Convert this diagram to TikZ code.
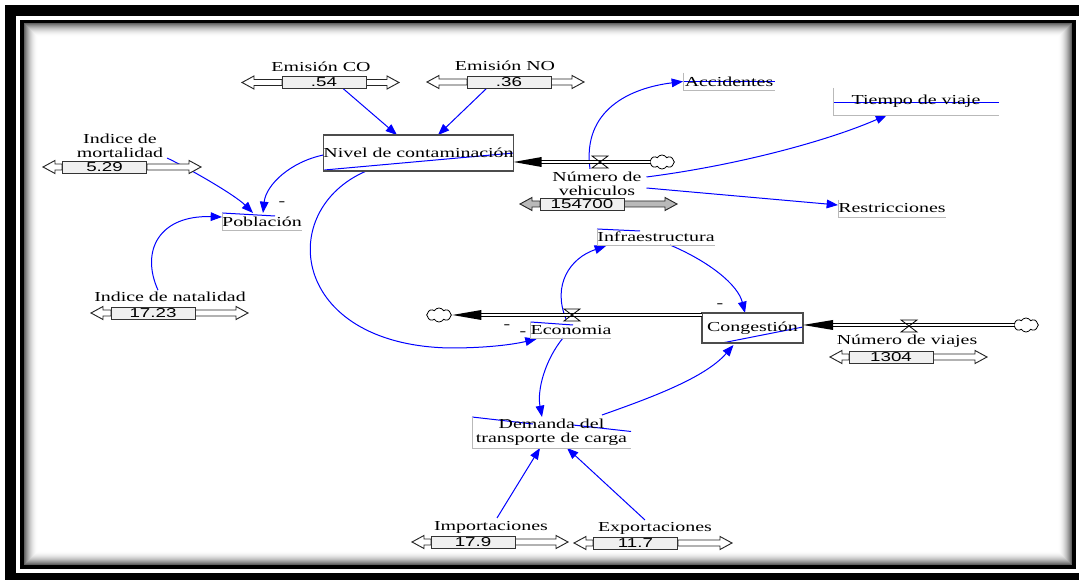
\documentclass[tikz,border=0pt]{standalone}
\usepackage{fontspec}
\setmainfont{Liberation Serif}[FakeStretch=1.45]
\newfontfamily\valfont{Liberation Sans}[FakeStretch=1.45]
\usetikzlibrary{calc,arrows.meta,shapes.symbols}
\pgfdeclarelayer{back}
\pgfdeclarelayer{links}
\pgfsetlayers{back,links,main}
\tikzset{
  every node/.style={font=\fontsize{10.3}{10.8}\selectfont, inner sep=0pt, outer sep=0pt},
  stock/.style={draw=black!70, line width=0.9pt},
  auxedge/.style={draw=gray!55, line width=0.7pt},
  valbox/.style={draw=black!80, fill=gray!12, line width=0.7pt, minimum width=63pt, minimum height=9pt,
                 font=\valfont\fontsize{9.7}{10}\selectfont},
  sarrow/.style={draw=black!85, fill=white, line width=0.7pt},
  sarrowgray/.style={draw=black!85, fill=gray!55, line width=0.7pt},
  link/.style={draw=blue, line width=0.75pt, -{Triangle[length=8.5pt,width=6.5pt]}},
  strike/.style={draw=blue, line width=0.75pt},
  flowline/.style={draw=black, line width=0.6pt, double=white, double distance=2.2pt},
  flowhead/.style={fill=black},
  cloudnode/.style={cloud, cloud puffs=8, cloud puff arc=120, aspect=1.8, draw=black, line width=0.6pt,
                    minimum width=18.5pt, minimum height=10.5pt, inner sep=0pt},
  pol/.style={},
  valvepic/.pic={\draw[black, line width=0.6pt] (-8,-6) -- (8,-6) -- (-8,6) -- (8,6) -- cycle;}
}
% #1 name, #2 left tip, #3 box left, #4 box right, #5 right tip, #6 y, #7 value, #8 arrow style
\newcommand\vslider[8]{%
  \draw[#8] (#3,#6-3) -- (#2+12,#6-3) -- (#2+12,#6-6.5) -- (#2,#6) -- (#2+12,#6+6.5) -- (#2+12,#6+3) -- (#3,#6+3) -- cycle;
  \draw[#8] (#4,#6-3) -- (#5-12,#6-3) -- (#5-12,#6-6.5) -- (#5,#6) -- (#5-12,#6+6.5) -- (#5-12,#6+3) -- (#4,#6+3) -- cycle;
  \node[valbox] (#1) at ({(#3+#4)/2},#6) {#7};
}
\begin{document}
\begin{tikzpicture}[x=0.75pt,y=-0.75pt]
\useasboundingbox (0,0) rectangle (1079,580);
\begin{pgfonlayer}{back}
  \fill[white] (0,0) rectangle (1079,580);
  \fill[black] (5,5) rectangle (1079,16);
  \fill[black] (5,5) rectangle (16,580);
  \fill[black] (5,573) rectangle (1079,580);
  \foreach \i in {0,...,13}{
    \pgfmathsetmacro\g{62*(1-\i/14)*(1-\i/14)}
    \draw[black!\g, line width=0.8pt] (24+\i+0.5,23+\i+0.5) rectangle (1072-\i-0.5,565-\i-0.5);
  }
  \draw[black, line width=2.6pt] (22,21.5) rectangle (1074,567);
\end{pgfonlayer}

% stocks
\node[stock, minimum width=141.75pt, minimum height=27pt] (nivel) at (418.5,153) {Nivel de contaminación};
\node[stock, minimum width=75.75pt, minimum height=22.5pt] (cong) at (752.5,328) {Congestión};

% auxiliaries
\node[minimum width=69pt, minimum height=12.75pt] (acc) at (729,81.5) {Accidentes};
\node[minimum width=124.5pt, minimum height=20.25pt] (tiempo) at (916,101.5) {Tiempo de viaje};
\node[minimum width=81pt, minimum height=12.75pt] (restr) at (892,208.5) {Restricciones};
\node[minimum width=60pt, minimum height=12.75pt] (pob) at (262,221.5) {Población};
\node[minimum width=88.5pt, minimum height=12pt] (infra) at (656,237) {Infraestructura};
\node[minimum width=60pt, minimum height=12pt] (eco) at (571,330) {Economia};
\node[align=center, minimum width=119.25pt, minimum height=23.25pt] (dem) at (551.5,432.5) {Demanda del\\transporte de carga};
\foreach \n in {acc,tiempo,restr,pob,infra,eco,dem}{
  \draw[auxedge] (\n.north west) |- (\n.south east);
}

% slider labels
\node (colab) at (321,67) {Emisión CO};
\node (nolab) at (505,66) {Emisión NO};
\node[align=center] (mortlab) at (120,146) {Indice de\\mortalidad};
\node (natlab) at (170,297) {Indice de natalidad};
\node[align=center] (vehlab) at (597,184) {Número de\\vehiculos};
\node (viajlab) at (907,341) {Número de viajes};
\node (implab) at (491,527) {Importaciones};
\node (explab) at (655,528) {Exportaciones};

% sliders
\vslider{co}{242}{282}{366}{399}{82.5}{.54}{sarrow}
\vslider{no}{427}{467}{551}{584}{82}{.36}{sarrow}
\vslider{mort}{43}{62}{147}{201}{167}{5.29}{sarrow}
\vslider{nat}{91}{111}{195}{248}{313}{17.23}{sarrow}
\vslider{veh}{520}{540}{624}{677}{204}{154700}{sarrowgray}
\vslider{viaj}{830}{849}{933}{987}{357}{1304}{sarrow}
\vslider{imp}{412}{431}{515}{568}{542}{17.9}{sarrow}
\vslider{exp}{574}{593}{678}{732}{543}{11.7}{sarrow}

% polarity signs
\node[pol] (p1) at (282,204) {-};
\node[pol] (p2) at (720,306) {-};
\node[pol] (p3) at (507,327) {-};
\node[pol] (p4) at (523,334) {-};

% clouds and flows
\node[cloudnode] (c1) at (662,162) {};
\node[cloudnode] (c2) at (1026,325) {};
\node[cloudnode] (c3) at (439,315) {};

\draw[flowline] (c1.west) -- ($(nivel.east)+(27,9)$);
\fill[flowhead] ($(nivel.east)+(0,9)$) -- ++(28,-5) -- ++(0,10) -- cycle;
\pic at (600,162) {valvepic};

\draw[flowline] (c2.west) -- ($(cong.east)+(30,-3)$);
\fill[flowhead] ($(cong.east)+(0,-3)$) -- ++(30,-5) -- ++(0,10) -- cycle;
\pic at (909,326) {valvepic};

\draw[flowline] ($(cong.north west)+(0,2)$) -- ($(c3.east)+(30,0)$);
\fill[flowhead] ($(c3.east)+(1,0)$) -- ++(29,-5) -- ++(0,10) -- cycle;
\pic at (572,315) {valvepic};

% causal links
\begin{pgfonlayer}{links}
  \draw[link] ($(co.south)+(19,0)$) -- ($(nivel.north)+(-21.5,0)$);
  \draw[link] ($(no.south)+(-22,0)$) -- ($(nivel.north)+(19.5,0)$);
  \draw[link] ($(mortlab.south east)+(4,0)$) .. controls (190,169) and (235,195) .. ($(pob.north)+(-9,0)$);
  \draw[link] ($(nivel.west)+(0,2)$) .. controls (290,162) and (266,185) .. ($(pob.north)+(1,0)$);
  \draw[link] ($(natlab.north)+(-12,-2)$) .. controls (140,250) and (160,215) .. ($(pob.west)+(0,-4.5)$);
  \draw[link] ($(nivel.south west)+(43,0)$) .. controls (275,210) and (290,345) .. (450,348)
                .. controls (490,348) and (515,344) .. ($(eco.south west)+(6,1)$);
  \draw[link] ($(eco.north)+(-5,-3)$) .. controls (552,285) and (570,258) .. ($(infra.south west)+(9,1)$);
  \draw[link] ($(infra.south)+(14,0)$) .. controls (710,262) and (738,285) .. ($(cong.north)+(-7.5,0)$);
  \draw[link] ($(eco.south)+(-8,0)$) .. controls (545,360) and (537,390) .. ($(dem.north)+(-9.5,0)$);
  \draw[link] ($(dem.north)+(50.5,-2)$) .. controls (650,398) and (705,378) .. ($(cong.south)+(-19,2)$);
  \draw[link] ($(implab.north)+(6,-3)$) -- ($(dem.south)+(-11.5,0)$);
  \draw[link] ($(explab.north)+(-10,-2)$) -- ($(dem.south)+(15.5,0)$);
  \draw[link] ($(vehlab.north)+(-7,-3)$) .. controls (582,110) and (630,88) .. (acc.west);
  \draw[link] ($(vehlab.east)+(5,-7)$) .. controls (740,165) and (830,140) .. ($(tiempo.south)+(-29,0)$);
  \draw[link] ($(vehlab.east)+(5,4)$) -- ($(restr.west)+(0,-3.5)$);
  % blue strokes across names
  \draw[strike] ($(nivel.south west)+(1,-1)$) -- (nivel.east);
  \draw[strike] ($(cong.south west)+(20,0)$) -- ($(cong.east)+(0,-1)$);
  \draw[strike] (acc.west) -- (acc.east);
  \draw[strike] ($(tiempo.west)+(0,1.5)$) -- ($(tiempo.east)+(0,1.5)$);
  \draw[strike] (pob.north west) -- ($(pob.north)+(13,3)$);
  \draw[strike] (infra.north west) -- ($(infra.north)+(-16,2)$);
  \draw[strike] (eco.north west) -- ($(eco.north)+(2,3)$);
  \draw[strike] (dem.north west) -- ($(dem.north west)+(61,7)$);
  \draw[strike] ($(dem.north)+(21.5,8)$) -- ($(dem.east)+(0,-1)$);
\end{pgfonlayer}
\end{tikzpicture}
\end{document}
